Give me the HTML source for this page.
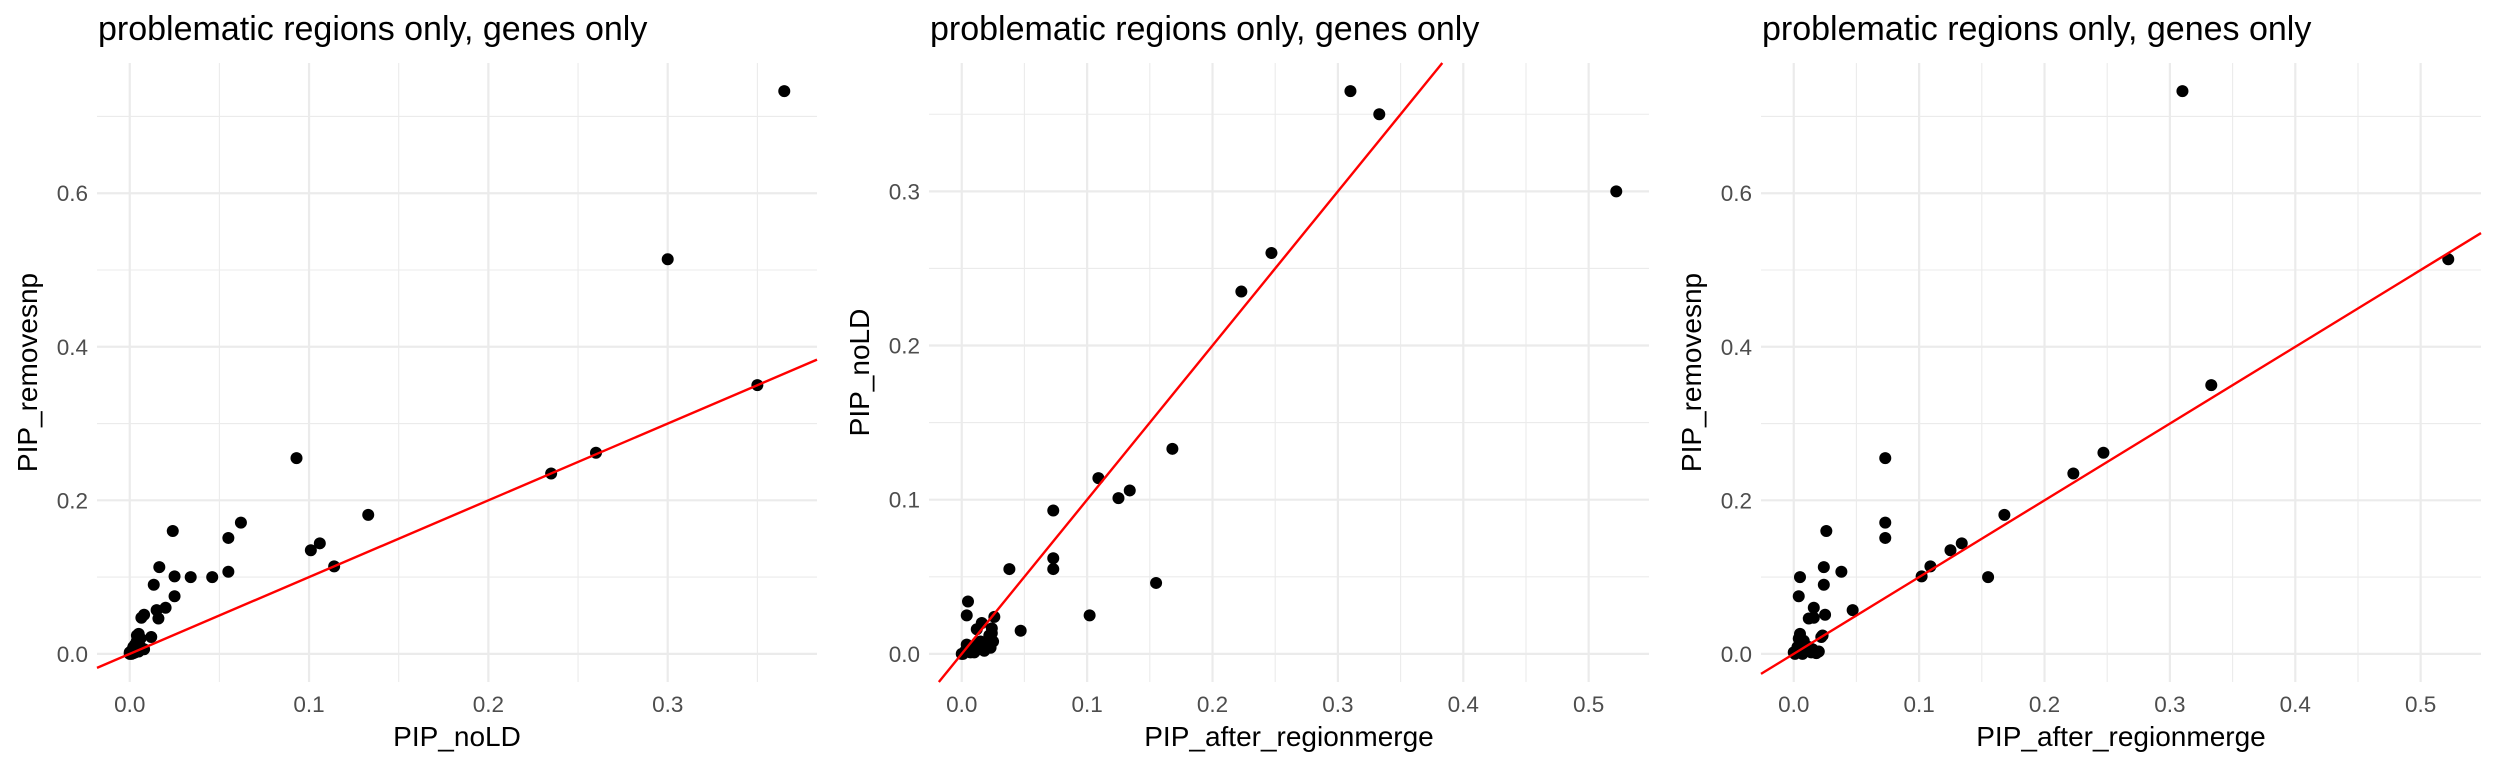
<!DOCTYPE html>
<html><head><meta charset="utf-8">
<style>
html,body{margin:0;padding:0;background:#fff;}
svg{display:block;font-family:"Liberation Sans",Arial,sans-serif;}
</style></head>
<body>
<svg id="chart" width="2496" height="768" viewBox="0 0 2496 768" xmlns="http://www.w3.org/2000/svg">
<rect width="2496" height="768" fill="#fff"/>
</svg>
<script>
// data: one entry per gene
const pipMerge    = [0.310,0.333,0.522,0.247,0.223,0.168,0.109,0.134,0.125,0.073,0.073,0.073,0.038,0.155,0.102,0.005,0.004,0.026,0.024,0.047,0.024,0.016,0.012,0.025,0.016,0.023,0.005,0.008,0.003,0.000,0.012,0.006,0.001,0.015,0.020,0.018,0.010,0.004,0.022,0.014,0.007];
const pipNoLD     = [0.365,0.350,0.300,0.260,0.235,0.133,0.114,0.106,0.101,0.093,0.062,0.055,0.055,0.046,0.025,0.034,0.025,0.024,0.0165,0.015,0.0134,0.020,0.016,0.008,0.0065,0.004,0.005,0.004,0.002,0.000,0.006,0.003,0.000,0.008,0.005,0.002,0.001,0.006,0.012,0.003,0.001];
const pipRemove   = [0.733,0.350,0.514,0.262,0.235,0.181,0.114,0.144,0.135,0.255,0.171,0.151,0.107,0.100,0.101,0.100,0.075,0.160,0.113,0.057,0.090,0.060,0.046,0.051,0.047,0.024,0.026,0.017,0.009,0.002,0.009,0.012,0.000,0.006,0.003,0.001,0.004,0.020,0.022,0.002,0.000];
const xTicksA = [0.0,0.1,0.2,0.3];
const xTicksB = [0.0,0.1,0.2,0.3,0.4,0.5];
const yTicksRemove = [0.0,0.2,0.4,0.6];
const yTicksNoLD = [0.0,0.1,0.2,0.3];
const titleText = "problematic regions only, genes only";

const NS="http://www.w3.org/2000/svg";
const svg=document.getElementById('chart');
function mk(tag,attrs,parent){const e=document.createElementNS(NS,tag);for(const k in attrs)e.setAttribute(k,attrs[k]);(parent||svg).appendChild(e);return e;}
function ext(v){const mn=Math.min(...v),mx=Math.max(...v),p=(mx-mn)*0.05;return [mn-p,mx+p];}

const TOP=63,BOT=682,W=720;
const panels=[
 {key:'noLD-vs-removesnp',L:97,xs:pipNoLD,ys:pipRemove,xt:xTicksA,yt:yTicksRemove,xl:'PIP_noLD',yl:'PIP_removesnp'},
 {key:'merge-vs-noLD',L:929,xs:pipMerge,ys:pipNoLD,xt:xTicksB,yt:yTicksNoLD,xl:'PIP_after_regionmerge',yl:'PIP_noLD'},
 {key:'merge-vs-removesnp',L:1761,xs:pipMerge,ys:pipRemove,xt:xTicksB,yt:yTicksRemove,xl:'PIP_after_regionmerge',yl:'PIP_removesnp'}
];
panels.forEach((p,pi)=>{
  const g=mk('g',{});
  
  
  const xd=ext(p.xs),yd=ext(p.ys);
  const sx=v=>p.L+(v-xd[0])/(xd[1]-xd[0])*W;
  const sy=v=>BOT-(v-yd[0])/(yd[1]-yd[0])*(BOT-TOP);
  const xstep=p.xt[1]-p.xt[0],ystep=p.yt[1]-p.yt[0];
  // minor grid
  for(let v=p.xt[0]-xstep/2; v<=xd[1]; v+=xstep){ if(v<xd[0])continue;
    const l=mk('line',{x1:sx(v),x2:sx(v),y1:TOP,y2:BOT,stroke:'#ebebeb','stroke-width':1.1},g);
    }
  for(let v=p.yt[0]-ystep/2; v<=yd[1]; v+=ystep){ if(v<yd[0])continue;
    const l=mk('line',{x1:p.L,x2:p.L+W,y1:sy(v),y2:sy(v),stroke:'#ebebeb','stroke-width':1.1},g);
    }
  // major grid + labels
  p.xt.forEach(v=>{
    const l=mk('line',{x1:sx(v),x2:sx(v),y1:TOP,y2:BOT,stroke:'#ebebeb','stroke-width':2.2},g);
    
    const t=mk('text',{x:sx(v),y:712,'text-anchor':'middle','font-size':22.5,fill:'#4d4d4d'},g);
    
    t.textContent=v.toFixed(1);
  });
  p.yt.forEach(v=>{
    const l=mk('line',{x1:p.L,x2:p.L+W,y1:sy(v),y2:sy(v),stroke:'#ebebeb','stroke-width':2.2},g);
    
    const t=mk('text',{x:p.L-9,y:sy(v)+8,'text-anchor':'end','font-size':22.5,fill:'#4d4d4d'},g);
    
    t.textContent=v.toFixed(1);
  });
  // points
  for(let i=0;i<p.xs.length;i++){
    const c=mk('circle',{cx:sx(p.xs[i]),cy:sy(p.ys[i]),r:6,fill:'#000'},g);
    
    
  }
  // y = x reference line, clipped to panel
  const lo=Math.max(xd[0],yd[0]),hi=Math.min(xd[1],yd[1]);
  const ln=mk('line',{x1:sx(lo),y1:sy(lo),x2:sx(hi),y2:sy(hi),stroke:'#ff0000','stroke-width':2.4},g);
  
  
  // titles
  const tt=mk('text',{x:p.L+1,y:40,'font-size':34,fill:'#000'},g);
  
  
  tt.textContent=titleText;
  const xt=mk('text',{x:p.L+W/2,y:746,'text-anchor':'middle','font-size':28,fill:'#000'},g);
  
  
  xt.textContent=p.xl;
  const cy=(TOP+BOT)/2, cx=p.L-60;
  const yt=mk('text',{x:cx,y:cy,'text-anchor':'middle','font-size':28,fill:'#000',transform:`rotate(-90 ${cx} ${cy})`},g);
  
  
  yt.textContent=p.yl;
});
</script>
</body></html>
